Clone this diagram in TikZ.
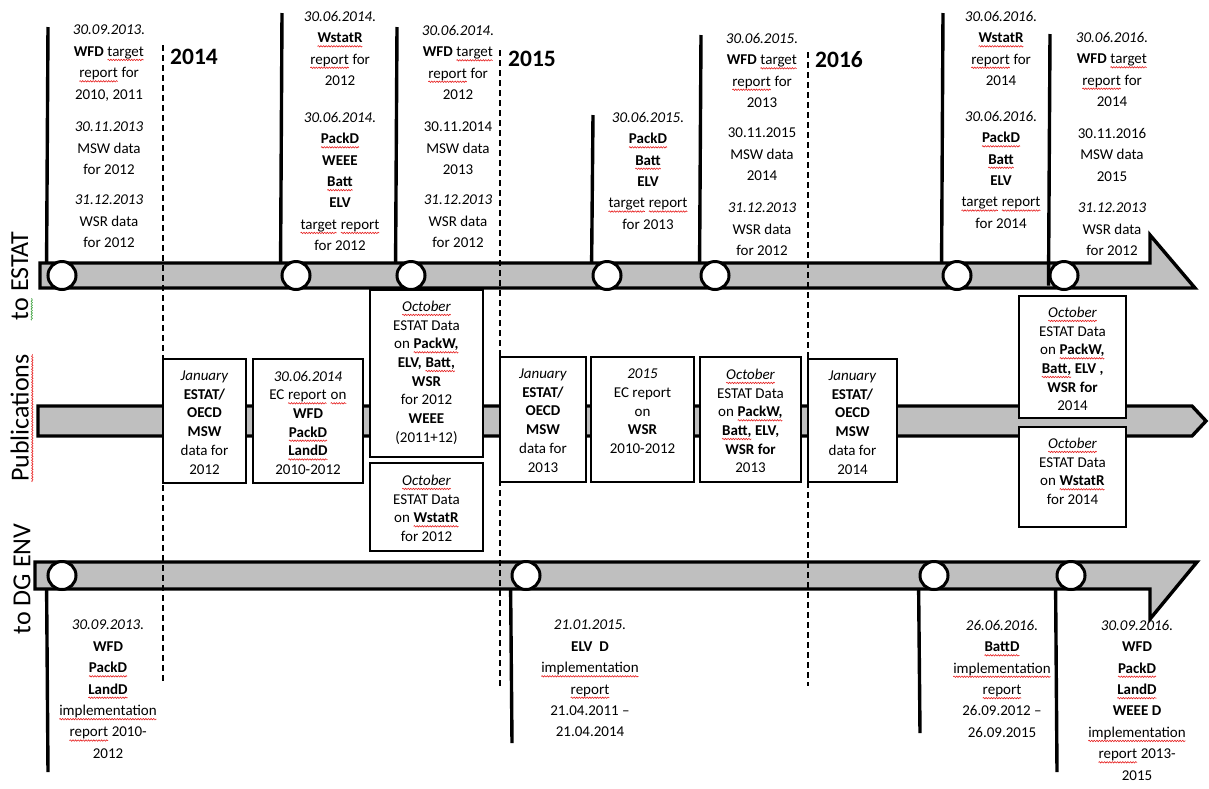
\documentclass[tikz,border=0pt]{standalone}
\usepackage{fontspec}
\setmainfont{Carlito}
\usetikzlibrary{backgrounds,decorations.pathmorphing}
\definecolor{barfill}{RGB}{191,191,191}
\definecolor{sqred}{RGB}{230,30,30}
\definecolor{sqgreen}{RGB}{60,160,60}
\newcommand\sqline[2]{\tikz[baseline=(w.base)]{\node[inner sep=0pt,outer sep=0pt] (w) {#2};
  \draw[#1,line width=0.6pt,decorate,decoration={snake,amplitude=0.7pt,segment length=2.6pt}]
   ([yshift=-3.6pt]w.base west) -- ([yshift=-3.6pt]w.base east);}}
\newcommand\sq[1]{\sqline{sqred}{#1}}
\newcommand\gsq[1]{\sqline{sqgreen}{#1}}
\tikzset{
  txt/.style={anchor=north,inner sep=0pt,align=center,font=\fontsize{15}{21.4}\selectfont},
  btxt/.style={anchor=north,inner sep=0pt,align=center,font=\fontsize{15}{18.7}\selectfont},
  pubbox/.style={draw,line width=2.6pt,fill=white,inner sep=0pt},
  tdot/.style={circle,draw,line width=3pt,fill=white,minimum size=28pt,inner sep=0pt},
  tstem/.style={line width=3.4pt},
  tbar/.style={draw,line width=3.4pt,fill=barfill},
  ydiv/.style={line width=1.5pt,dash pattern=on 6pt off 4pt},
  ylbl/.style={inner sep=0pt,font=\fontsize{23.5}{28}\selectfont\bfseries},
  sidelbl/.style={rotate=90,inner sep=0pt,font=\fontsize{26}{30}\selectfont},
}
\begin{document}
\begin{tikzpicture}[x=1pt,y=-1pt]
\useasboundingbox (0,0) rectangle (1209,788);

% ---- circles on the timelines
\node[tdot] (t1) at (62,275.5) {};
\node[tdot] (t2) at (296,275.5) {};
\node[tdot] (t3) at (411,275.5) {};
\node[tdot] (t4) at (607,275.5) {};
\node[tdot] (t5) at (715,275.5) {};
\node[tdot] (t6) at (957,275.5) {};
\node[tdot] (t7) at (1064,275.5) {};
\node[tdot] (d1) at (62,575.5) {};
\node[tdot] (d2) at (526,575.5) {};
\node[tdot] (d3) at (934,575.5) {};
\node[tdot] (d4) at (1071,575.5) {};

% ---- stem ends
\coordinate (s1) at (48,27);
\coordinate (s2) at (282,13);
\coordinate (s3) at (397,27);
\coordinate (s4) at (593,115);
\coordinate (s5) at (701,35);
\coordinate (s6) at (943,13);
\coordinate (s7) at (1050,34);
\coordinate (e1) at (48,772);
\coordinate (e2) at (512,743);
\coordinate (e3) at (920,733);
\coordinate (e4) at (1057,772);
\coordinate (ya1) at (163,45);  \coordinate (yb1) at (163,681);
\coordinate (ya2) at (500,50);  \coordinate (yb2) at (500,687);
\coordinate (ya3) at (808,52);  \coordinate (yb3) at (808,686);

% ---- side labels
\node[sidelbl] (lest) at (22,276) {\gsq{to} ESTAT};
\node[sidelbl] (lpub) at (22,418) {\sq{Publications}};
\node[sidelbl] (ldg) at (22,579) {to DG ENV};

% ---- year labels
\node[ylbl] (y14) at (194,57) {2014};
\node[ylbl] (y15) at (532,59) {2015};
\node[ylbl] (y16) at (839,60) {2016};

% ---- top texts (to ESTAT)
\node[txt] (a1) at (109,25) {\textit{30.09.2013.}\\\textbf{WFD} \sq{target}\\\sq{report} for\\2010, 2011};
\node[txt] (a2) at (109,122) {\textit{30.11.2013}\\MSW data\\for 2012};
\node[txt] (a3) at (109,195) {\textit{31.12.2013}\\WSR data\\for 2012};
\node[txt] (b1) at (340,11) {\textit{30.06.2014.}\\\textbf{\sq{WstatR}}\\\sq{report} for\\2012};
\node[txt] (b2) at (340,112) {\textit{30.06.2014.}\\\textbf{\sq{PackD}}\\\textbf{WEEE}\\\textbf{\sq{Batt}}\\\textbf{ELV}\\\sq{target} \sq{report}\\for 2012};
\node[txt] (c1) at (458,25) {\textit{30.06.2014.}\\\textbf{WFD} \sq{target}\\\sq{report} for\\2012};
\node[txt] (c2) at (458,122) {30.11.2014\\MSW data\\2013};
\node[txt] (c3) at (458,195) {\textit{31.12.2013}\\WSR data\\for 2012};
\node[txt] (d1t) at (648,112) {\textit{30.06.2015.}\\\textbf{\sq{PackD}}\\\textbf{\sq{Batt}}\\\textbf{ELV}\\\sq{target} \sq{report}\\for 2013};
\node[txt] (e1t) at (762,33) {\textit{30.06.2015.}\\\textbf{WFD} \sq{target}\\\sq{report} for\\2013};
\node[txt] (e2t) at (762,128) {30.11.2015\\MSW data\\2014};
\node[txt] (e3t) at (762,203) {\textit{31.12.2013}\\WSR data\\for 2012};
\node[txt] (f1t) at (1001,11) {\textit{30.06.2016.}\\\textbf{\sq{WstatR}}\\\sq{report} for\\2014};
\node[txt] (f2t) at (1001,111) {\textit{30.06.2016.}\\\textbf{\sq{PackD}}\\\textbf{\sq{Batt}}\\\textbf{ELV}\\\sq{target} \sq{report}\\for 2014};
\node[txt] (g1t) at (1112,32) {\textit{30.06.2016.}\\\textbf{WFD} \sq{target}\\\sq{report} for\\2014};
\node[txt] (g2t) at (1112,128) {30.11.2016\\MSW data\\2015};
\node[txt] (g3t) at (1112,203) {\textit{31.12.2013}\\WSR data\\for 2012};

% ---- bottom texts (to DG ENV)
\node[txt] (h1) at (108,620) {\textit{30.09.2013.}\\\textbf{WFD}\\\textbf{\sq{PackD}}\\\textbf{\sq{LandD}}\\\sq{implementation}\\\sq{report} 2010-\\2012};
\node[txt] (h2) at (590,620) {\textit{21.01.2015.}\\\textbf{ELV\ \ D}\\\sq{implementation}\\\sq{report}\\21.04.2011 –\\21.04.2014};
\node[txt] (h3) at (1002,620) {\textit{26.06.2016.}\\\textbf{\sq{BattD}}\\\sq{implementation}\\\sq{report}\\26.09.2012 –\\26.09.2015};
\node[txt] (h4) at (1137,620) {\textit{30.09.2016.}\\\textbf{WFD}\\\textbf{\sq{PackD}}\\\textbf{\sq{LandD}}\\\textbf{WEEE D}\\\sq{implementation}\\\sq{report} 2013-\\2015};

% ---- publication boxes
\node[pubbox,minimum width=83pt,minimum height=124pt] (bA) at (204.5,421) {};
\node[pubbox,minimum width=110pt,minimum height=124pt] (bB) at (308,421) {};
\node[pubbox,minimum width=113pt,minimum height=167pt] (bC) at (426.5,373.5) {};
\node[pubbox,minimum width=113pt,minimum height=88pt] (bD) at (426.5,507) {};
\node[pubbox,minimum width=86pt,minimum height=125pt] (bE) at (543,419.5) {};
\node[pubbox,minimum width=103pt,minimum height=125pt] (bF) at (642.5,419.5) {};
\node[pubbox,minimum width=101pt,minimum height=125pt] (bG) at (750.5,419.5) {};
\node[pubbox,minimum width=89pt,minimum height=123pt] (bH) at (852.5,420.5) {};
\node[pubbox,minimum width=107pt,minimum height=122pt] (bI) at (1072.5,357) {};
\node[pubbox,minimum width=107pt,minimum height=100pt] (bJ) at (1072.5,477) {};

\node[btxt] at ([yshift=-13pt]bA.north) {\textit{January}\\\textbf{ESTAT/}\\\textbf{OECD}\\\textbf{MSW}\\data for\\2012};
\node[btxt] at ([yshift=-13pt]bB.north) {\textit{30.06.2014}\\EC \sq{report} \sq{on}\\\textbf{WFD}\\\textbf{\sq{PackD}}\\\textbf{\sq{LandD}}\\2010-2012};
\node[btxt] at ([yshift=-12pt]bC.north) {\textit{\sq{October}}\\ESTAT Data\\on \textbf{\sq{PackW,}}\\\textbf{ELV, \sq{Batt,}}\\\textbf{WSR}\\for 2012\\\textbf{WEEE}\\(2011+12)};
\node[btxt] at ([yshift=-13pt]bD.north) {\textit{\sq{October}}\\ESTAT Data\\on \textbf{\sq{WstatR}}\\for 2012};
\node[btxt] at ([yshift=-13pt]bE.north) {\textit{January}\\\textbf{ESTAT/}\\\textbf{OECD}\\\textbf{MSW}\\data for\\2013};
\node[btxt] at ([yshift=-13pt]bF.north) {\textit{2015}\\EC report\\on\\\textbf{WSR}\\2010-2012};
\node[btxt] at ([yshift=-13pt]bG.north) {\textit{\sq{October}}\\ESTAT Data\\on \textbf{\sq{PackW,}}\\\textbf{\sq{Batt,} ELV,}\\\textbf{WSR for}\\2013};
\node[btxt] at ([yshift=-13pt]bH.north) {\textit{January}\\\textbf{ESTAT/}\\\textbf{OECD}\\\textbf{MSW}\\data for\\2014};
\node[btxt] at ([yshift=-12pt]bI.north) {\textit{\sq{October}}\\ESTAT Data\\on \textbf{\sq{PackW,}}\\\textbf{\sq{Batt,} ELV ,}\\\textbf{WSR for}\\2014};
\node[btxt] at ([yshift=-12pt]bJ.north) {\textit{\sq{October}}\\ESTAT Data\\on \textbf{\sq{WstatR}}\\for 2014};

% ---- background: stems, bars, year dividers
\begin{scope}[on background layer]
  \draw[tstem] (s1) -- (t1.west);
  \draw[tstem] (s2) -- (t2.west);
  \draw[tstem] (s3) -- (t3.west);
  \draw[tstem] (s4) -- (t4.west);
  \draw[tstem] (s5) -- (t5.west);
  \draw[tstem] (s6) -- (t6.west);
  \draw[tstem] (e1) -- (d1.west);
  \draw[tstem] (e2) -- (d2.west);
  \draw[tstem] (e3) -- (d3.west);
  \draw[tstem] (e4) -- (d4.west);
  \draw[tbar] (40,263) -- (1150,263) -- (1150,235) -- (1195,288) -- (40,288) -- cycle;
  \draw[tbar] (38,406) -- (1192,406) -- (1206,421) -- (1192,436) -- (38,436) -- cycle;
  \draw[tbar] (35,562) -- (1197,562) -- (1150,619) -- (1150,589) -- (35,589) -- cycle;
  \draw[tstem] (s7) -- ([yshift=-10pt]t7.west);
  \draw[ydiv] (ya1) -- (yb1);
  \draw[ydiv] (ya2) -- (yb2);
  \draw[ydiv] (ya3) -- (yb3);
\end{scope}
\end{tikzpicture}
\end{document}
